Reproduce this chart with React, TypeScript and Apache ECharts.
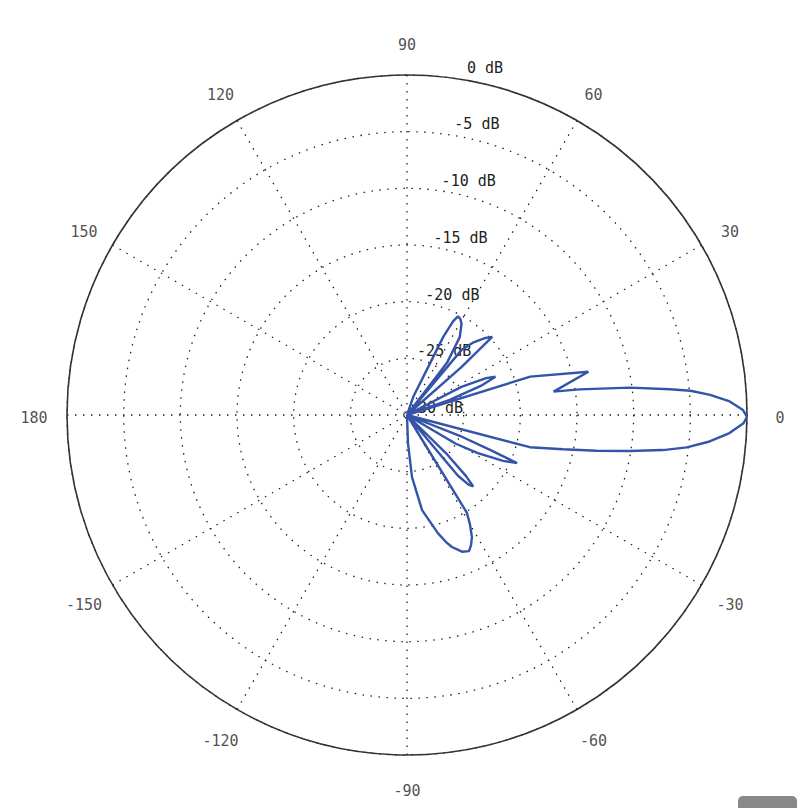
import { useEffect, useRef } from 'react';
import * as echarts from 'echarts';

// Radiation pattern (angle in degrees, gain in dB; -30 dB = centre)
const angleDeg: number[] = [
  -90, -88, -85.4, -81, -75.3, -73, -71.2, -68.1, -65.5, -63.8, -62, -60, -58.5,
  -57, -53, -50, -48.5, -47.2, -46, -44.5, -42,
  -33, -30.5, -28.3, -25.5, -23.6, -22.8, -21.5, -20,
  -15.5, -14.7, -12.4, -10.7, -9.2, -7.8, -6.6, -5.0, -3.2, -1.4,
  -0.3, 0.85, 2.4, 3.8, 4.9, 5.6, 7.0, 8.45, 9.05,
  13.4, 17.3, 18,
  19.5, 21.5, 23.4, 25, 27.4, 29.5,
  40, 41.4, 42.5, 44.5, 47.5, 50, 51.5,
  52.5, 55.9, 59.2, 61, 62.7, 63.8, 65.1, 66.4, 71, 73, 90,
];
const gainDb: number[] = [
  -30, -27.5, -24.5, -21.5, -19.2, -18.3, -17.7, -17.0, -16.8, -17.2, -17.8, -18.9, -19.9,
  -30, -30, -23, -21.8, -21.4, -22.5, -25, -30,
  -30, -25, -22.9, -20.6, -19.4, -22, -25, -30,
  -30, -18.8, -15.9, -13.0, -10.1, -7.2, -5.15, -3.2, -1.5, -0.3,
  0, -0.35, -1.5, -3.2, -4.9, -6.7, -10.2, -14.6, -16.9,
  -13.55, -18.6, -30,
  -26, -23, -21.5, -22.3, -24.6, -30,
  -30, -23.6, -19.8, -20.3, -21.3, -22.5, -30,
  -24.2, -21.7, -20.6, -20.3, -20.2, -20.8, -22.4, -25.7, -28.3, -30, -30,
];

// Axis settings and tick labels
const dbMin = -30;
const dbMax = 0;
const dbStep = 5;
const angleStep = 30;
const angleLabelValues: number[] = [0, 30, 60, 90, 120, 150, 180, -150, -120, -90, -60, -30];

const OUTER_PX = 340;
const LABEL_PX = 373;
const labelRingDb = dbMax + ((LABEL_PX - OUTER_PX) / OUTER_PX) * (dbMax - dbMin);

const FONT = "'DejaVu Sans Mono', monospace";
const dotted = { type: [1.5, 6.5] as number[], color: '#222', width: 1.3 };
const toAxisAngle = (a: number) => (a < 90 ? a + 360 : a);

export default function App() {
  const ref = useRef<HTMLDivElement>(null);
  useEffect(() => {
    if (!ref.current) return;
    const chart = echarts.init(ref.current, undefined, { renderer: 'svg' });
    const data = angleDeg.map((a, i) => [gainDb[i], toAxisAngle(a)]);
    chart.setOption({
      animation: false,
      backgroundColor: '#ffffff',
      polar: [
        { center: [407, 415], radius: OUTER_PX },
        { center: [436, 408], radius: 344 },
      ],
      angleAxis: [
        {
          polarIndex: 0,
          type: 'value',
          min: 90,
          max: 450,
          interval: angleStep,
          startAngle: 90,
          clockwise: false,
          axisLine: { show: true, lineStyle: { color: '#333', width: 1.6 } },
          axisTick: { show: false },
          axisLabel: { show: false },
          splitLine: { show: true, lineStyle: dotted },
        },
        {
          polarIndex: 1,
          type: 'value',
          min: 0,
          max: 360,
          startAngle: 81.8,
          show: false,
        },
      ],
      radiusAxis: [
        {
          polarIndex: 0,
          type: 'value',
          min: dbMin,
          max: dbMax,
          interval: dbStep,
          axisLine: { show: false },
          axisTick: { show: false },
          axisLabel: { show: false },
          splitLine: { show: true, lineStyle: dotted },
        },
        {
          polarIndex: 1,
          type: 'value',
          min: dbMin,
          max: dbMax,
          interval: dbStep,
          axisLine: { show: false },
          axisTick: { show: false },
          splitLine: { show: false },
          axisLabel: {
            show: true,
            margin: 0,
            align: 'center',
            verticalAlign: 'middle',
            color: '#222',
            fontFamily: FONT,
            fontSize: 15,
            formatter: '{value} dB',
          },
        },
      ],
      series: [
        {
          type: 'line',
          coordinateSystem: 'polar',
          polarIndex: 0,
          data,
          showSymbol: false,
          symbol: 'none',
          smooth: false,
          clip: false,
          lineStyle: { color: '#3454aa', width: 2.4 },
          z: 5,
        },
        {
          type: 'scatter',
          coordinateSystem: 'polar',
          polarIndex: 0,
          silent: true,
          clip: false,
          symbol: 'circle',
          symbolSize: 1,
          itemStyle: { color: 'rgba(0,0,0,0)' },
          data: angleLabelValues.map((a) => [labelRingDb, toAxisAngle(a)]),
          label: {
            show: true,
            position: 'inside',
            offset: [0, 3],
            color: '#222',
            fontFamily: FONT,
            fontSize: 15,
            formatter: (p: any) => String(angleLabelValues[p.dataIndex]),
          },
          z: 3,
        },
      ],
      graphic: [
        {
          type: 'rect',
          shape: { x: 738, y: 796, width: 59, height: 12, r: [5, 5, 0, 0] },
          style: { fill: '#888888' },
        },
      ],
    });
    return () => chart.dispose();
  }, []);
  return (
    <div
      ref={ref}
      style={{ position: 'fixed', left: 0, top: 0, width: 797, height: 808, background: '#fff' }}
    />
  );
}
